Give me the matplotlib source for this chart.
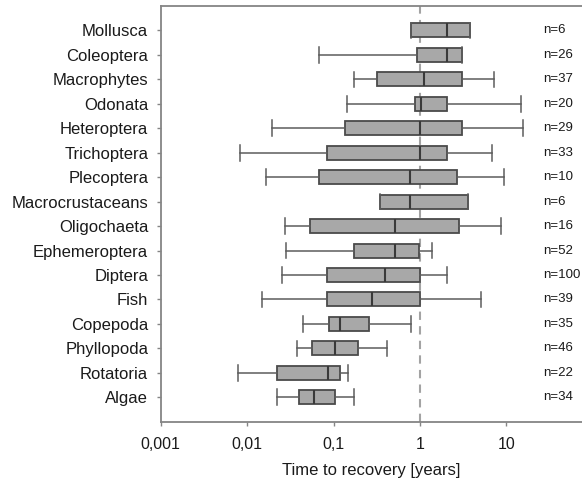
import matplotlib
matplotlib.use("Agg")
import matplotlib.pyplot as plt
from matplotlib.ticker import NullLocator

plt.rcParams['font.family'] = ['Liberation Sans', 'DejaVu Sans']

# taxa, top to bottom
taxa = ['Mollusca', 'Coleoptera', 'Macrophytes', 'Odonata', 'Heteroptera',
        'Trichoptera', 'Plecoptera', 'Macrocrustaceans', 'Oligochaeta',
        'Ephemeroptera', 'Diptera', 'Fish', 'Copepoda', 'Phyllopoda',
        'Rotatoria', 'Algae']
n_studies = [6, 26, 37, 20, 29, 33, 10, 6, 16, 52, 100, 39, 35, 46, 22, 34]

# recovery time in years: whisker low, Q1, median, Q3, whisker high
whis_lo = [0.78, 0.067, 0.173, 0.143, 0.0195, 0.0083, 0.0167, 0.342, 0.0272,
           0.028, 0.0254, 0.0148, 0.0444, 0.038, 0.0078, 0.0222]
q1 = [0.78, 0.92, 0.316, 0.88, 0.135, 0.085, 0.067, 0.342, 0.053,
      0.171, 0.084, 0.083, 0.088, 0.056, 0.0222, 0.040]
median = [2.05, 2.05, 1.11, 1.02, 1.0, 1.0, 0.77, 0.77, 0.514,
          0.514, 0.397, 0.281, 0.12, 0.105, 0.086, 0.060]
q3 = [3.75, 3.1, 3.1, 2.03, 3.1, 2.03, 2.68, 3.6, 2.8,
      0.98, 1.0, 1.0, 0.255, 0.192, 0.12, 0.104]
whis_hi = [3.75, 3.1, 7.1, 14.6, 15.4, 6.85, 9.5, 3.6, 8.7,
           1.38, 2.03, 5.07, 0.78, 0.415, 0.147, 0.174]

tick_vals = [0.001, 0.01, 0.1, 1, 10]
tick_labels = ['0,001', '0,01', '0,1', '1', '10']

stats = []
for i, name in enumerate(taxa):
    stats.append(dict(label=name, whislo=whis_lo[i], q1=q1[i], med=median[i],
                      q3=q3[i], whishi=whis_hi[i], fliers=[]))

fig = plt.figure(figsize=(5.82, 4.84), dpi=100)
ax = fig.add_axes([0.2761, 0.1287, 0.7239, 0.8589])

ax.axvline(1, color='#a3a3a3', lw=1.5, ls=(0, (4, 3)), zorder=0)

pos = list(range(len(taxa)))
ax.bxp(stats, positions=pos, orientation='horizontal', widths=0.57,
       capwidths=0.64, patch_artist=True, showfliers=False,
       boxprops=dict(facecolor='#a8a8a8', edgecolor='#4a4a4a', linewidth=1.3),
       medianprops=dict(color='#3a3a3a', linewidth=1.5),
       whiskerprops=dict(color='#5c5c5c', linewidth=1.1),
       capprops=dict(color='#5c5c5c', linewidth=1.1))

for i, n in enumerate(n_studies):
    ax.text(26.5, i, 'n=%d' % n, va='center', ha='left', fontsize=9.5,
            color='#1a1a1a')

ax.set_xscale('log')
ax.set_xlim(0.001, 75)
ax.set_ylim(len(taxa), -1)
ax.set_xticks(tick_vals)
ax.set_xticklabels(tick_labels, fontsize=11.5)
ax.xaxis.set_minor_locator(NullLocator())
ax.set_yticks(pos)
ax.set_yticklabels(taxa, fontsize=12)

ax.spines['right'].set_visible(False)
for s in ['left', 'top', 'bottom']:
    ax.spines[s].set_color('#858585')
    ax.spines[s].set_linewidth(1.3)
ax.tick_params(axis='both', length=3, width=1, color='#858585',
               labelcolor='#1a1a1a')
ax.tick_params(axis='y', pad=6)
ax.tick_params(axis='x', pad=8)

ax.set_xlabel('Time to recovery [years]', fontsize=12, color='#1a1a1a',
              labelpad=8)

fig.savefig('out.png', dpi=100)
